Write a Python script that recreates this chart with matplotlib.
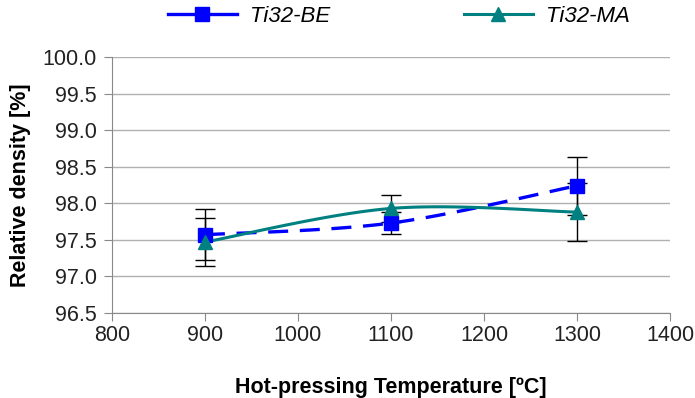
import numpy as np
import matplotlib.pyplot as plt
from matplotlib.lines import Line2D

plt.rcParams['font.family'] = ['Liberation Sans', 'DejaVu Sans']

temps = [900, 1100, 1300]
be_vals = [97.57, 97.73, 98.24]
be_err = [0.35, 0.15, 0.40]
ma_vals = [97.47, 97.93, 97.88]
ma_err = [0.33, 0.19, 0.40]
yticks = [96.5, 97.0, 97.5, 98.0, 98.5, 99.0, 99.5, 100.0]
xticks = [800, 900, 1000, 1100, 1200, 1300, 1400]


def smooth(x, y, xr, yr, n=40):
    # spreadsheet-style smoothed line (cubic Bezier through points, in axes units)
    x = (np.asarray(x, float) - xr[0]) / (xr[1] - xr[0])
    y = (np.asarray(y, float) - yr[0]) / (yr[1] - yr[0])
    pts = np.column_stack([x, y])
    ext = np.vstack([pts[0], pts, pts[-1]])
    out = []
    t = np.linspace(0, 1, n)[:, None]
    for i in range(len(pts) - 1):
        p0, p3 = pts[i], pts[i + 1]
        p1 = p0 + (ext[i + 2] - ext[i]) / 6
        p2 = p3 - (ext[i + 3] - ext[i + 1]) / 6
        seg = (1 - t) ** 3 * p0 + 3 * (1 - t) ** 2 * t * p1 + 3 * (1 - t) * t ** 2 * p2 + t ** 3 * p3
        out.append(seg)
    c = np.vstack(out)
    return c[:, 0] * (xr[1] - xr[0]) + xr[0], c[:, 1] * (yr[1] - yr[0]) + yr[0]


xr = (800, 1400)
yr = (96.5, 100.0)

fig = plt.figure(figsize=(6.95, 3.98), dpi=100)
ax = fig.add_axes([0.161, 0.2136, 0.803, 0.643])

blue = '#0000ff'
teal = '#008080'

ax.errorbar(temps, be_vals, yerr=be_err, fmt='none', ecolor='black', elinewidth=1, capsize=7, capthick=1, zorder=2)
ax.errorbar(temps, ma_vals, yerr=ma_err, fmt='none', ecolor='black', elinewidth=1, capsize=7, capthick=1, zorder=2)

sx, sy = smooth(temps, be_vals, xr, yr)
ax.plot(sx, sy, color=blue, lw=2.4, dashes=(6, 3.5), zorder=3)
ax.plot(temps, be_vals, 's', color=blue, ms=9.5, zorder=4)

sx, sy = smooth(temps, ma_vals, xr, yr)
ax.plot(sx, sy, color=teal, lw=2.2, zorder=3)
ax.plot(temps, ma_vals, '^', color=teal, ms=10, zorder=5)

ax.set_xlim(*xr)
ax.set_ylim(*yr)
ax.set_xticks(xticks)
ax.set_yticks(yticks)
ax.set_yticklabels([f'{v:.1f}' for v in yticks])
ax.tick_params(labelsize=15.5, labelcolor='#222222', direction='out', length=6, color='#888888')
ax.tick_params(axis='x', pad=3)
ax.tick_params(axis='y', pad=5)
ax.grid(axis='y', color='#b0b0b0', lw=1)
ax.set_axisbelow(True)
for s in ['top', 'right']:
    ax.spines[s].set_visible(False)
for s in ['left', 'bottom']:
    ax.spines[s].set_color('#888888')

ax.set_xlabel('Hot-pressing Temperature [ºC]', fontsize=15.5, fontweight='bold', labelpad=22)
ax.set_ylabel('Relative density [%]', fontsize=15.5, fontweight='bold', labelpad=8)

handles = [
    Line2D([], [], color=blue, lw=2.4, marker='s', ms=9.5),
    Line2D([], [], color=teal, lw=2.2, marker='^', ms=10),
]
fig.legend(handles, ['Ti32-BE', 'Ti32-MA'], loc='upper center', bbox_to_anchor=(0.574, 1.035), ncol=2,
           frameon=False, handlelength=3.1, handletextpad=0.6, columnspacing=6.0,
           prop={'style': 'italic', 'size': 16})

fig.savefig('out.png', dpi=100)
